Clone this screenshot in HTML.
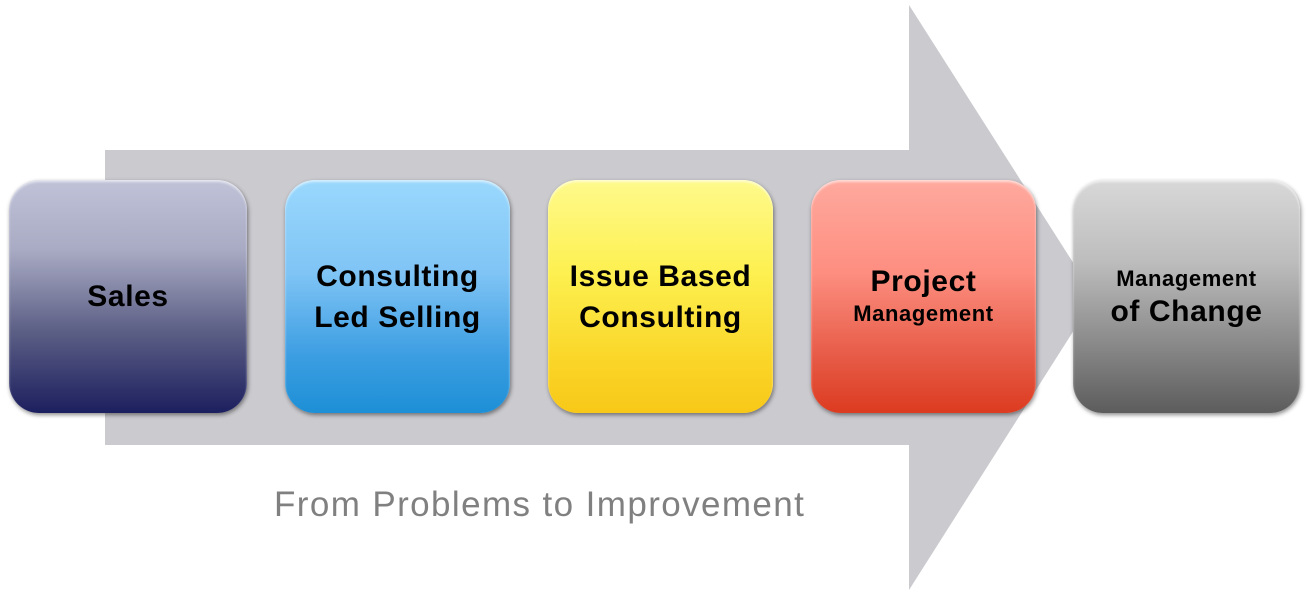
<!DOCTYPE html>
<html><head><style>
body{margin:0;width:1308px;height:601px;background:#fff;position:relative;overflow:hidden;font-family:"Liberation Sans",sans-serif}
.b{position:absolute;top:180px;height:233px;border-radius:30px;display:flex;flex-direction:column;align-items:center;justify-content:center;font-weight:bold;color:#000;text-align:center;box-shadow:1px 2px 4px rgba(0,0,0,.45),inset 0 2px 2px rgba(255,255,255,.6);line-height:41px;font-size:30px;letter-spacing:0.6px}
</style></head><body>
<svg width="1308" height="601" style="position:absolute;left:0;top:0">
<polygon points="105,150 909,150 909,5 1095,297 909,590 909,445 105,445" fill="#cacacf"/>
</svg>
<div class="b" style="left:9px;width:238px;background:linear-gradient(#c0c2d8,#a9abc4 30%,#5c5f85 65%,#1c1f5e)">Sales</div>
<div class="b" style="left:285px;width:225px;background:linear-gradient(#9ad8fd,#7fc4f5 40%,#3d9ee2 75%,#1d8fd6)">Consulting<br>Led Selling</div>
<div class="b" style="left:548px;width:225px;background:linear-gradient(#fefa8c,#fdf050 40%,#fad72a 75%,#f8c818)">Issue Based<br>Consulting</div>
<div class="b" style="left:811px;width:225px;background:linear-gradient(#ffa99e,#fd8e80 40%,#e75c48 75%,#dc3b20)"><span style="line-height:34px">Project</span><span style="font-size:22px;line-height:30px">Management</span></div>
<div class="b" style="left:1073px;width:227px;background:linear-gradient(#d8d8d8,#bdbdbd 35%,#8a8a8a 70%,#5c5c5c)"><span style="font-size:22px;line-height:30px">Management</span><span style="line-height:36px">of Change</span></div>
<div style="position:absolute;left:274px;top:485px;font-size:35px;letter-spacing:1.4px;color:#808080;white-space:nowrap">From Problems to Improvement</div>
</body></html>
